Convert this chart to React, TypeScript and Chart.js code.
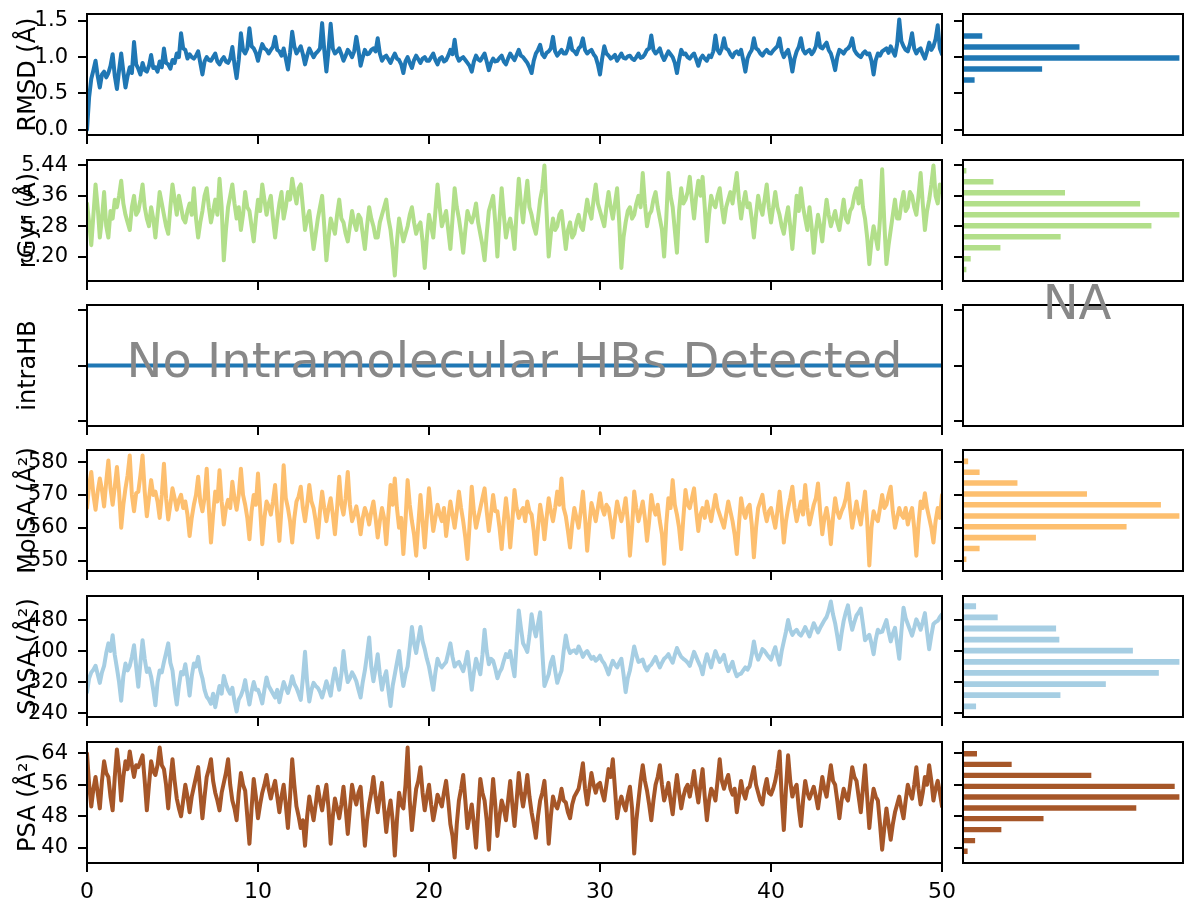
import React, { useEffect, useRef } from 'react';
import { Chart, registerables } from 'chart.js';

Chart.register(...registerables);

// ---------------------------------------------------------------------------
// Trajectory data: one frame every 0.125 ns over 50 ns (16 frames per row)
// ---------------------------------------------------------------------------
const TIME_STEP_NS = 0.125;
const timeTicksNs = [0, 10, 20, 30, 40, 50];

const rmsdAngstrom = [
  0.00, 0.45, 0.70, 0.82, 0.95, 0.74, 0.58, 0.76, 0.80, 0.72, 0.78, 0.88, 1.04, 0.74, 0.56, 0.82,
  1.05, 0.80, 0.58, 0.74, 0.86, 0.78, 1.21, 0.90, 0.84, 0.76, 0.92, 0.82, 0.80, 0.88, 1.03, 0.85,
  0.86, 0.80, 0.94, 0.86, 1.12, 0.92, 0.90, 0.84, 0.96, 0.92, 1.05, 1.00, 1.33, 1.12, 1.10, 0.98,
  1.04, 1.00, 0.98, 1.02, 1.08, 0.92, 0.76, 0.94, 1.00, 0.96, 0.95, 1.00, 1.05, 0.94, 0.90, 0.96,
  1.00, 0.94, 0.92, 0.98, 1.14, 0.90, 0.71, 0.96, 1.33, 1.10, 1.05, 1.12, 1.40, 1.15, 1.12, 1.06,
  0.95, 1.08, 1.18, 1.12, 1.10, 1.05, 1.10, 1.14, 1.28, 1.10, 1.08, 1.02, 1.12, 0.98, 0.83, 1.06,
  1.35, 1.15, 1.05, 1.10, 1.15, 1.04, 0.90, 1.02, 1.12, 1.06, 1.00, 1.05, 1.08, 1.12, 1.47, 1.10,
  0.80, 1.10, 1.46, 1.12, 1.05, 1.08, 1.12, 1.04, 0.95, 1.02, 1.10, 1.06, 1.00, 1.08, 1.28, 1.10,
  0.88, 1.00, 1.10, 1.04, 1.05, 1.10, 1.12, 1.08, 1.26, 1.05, 0.95, 1.00, 1.02, 0.97, 0.92, 0.99,
  1.05, 0.98, 0.96, 0.90, 0.78, 0.94, 1.00, 0.92, 0.85, 0.96, 1.02, 0.97, 0.92, 0.98, 1.00, 0.95,
  0.95, 1.00, 1.05, 0.96, 0.90, 0.98, 1.00, 0.94, 0.96, 1.02, 1.10, 1.04, 1.24, 1.02, 0.95, 0.98,
  1.00, 0.96, 0.92, 0.88, 0.80, 0.94, 1.02, 0.97, 0.95, 1.00, 1.05, 0.94, 0.82, 0.92, 0.98, 0.94,
  0.95, 0.99, 1.02, 0.94, 0.90, 0.98, 1.05, 1.00, 0.96, 1.03, 1.10, 1.02, 1.00, 0.96, 0.92, 0.86,
  0.78, 0.95, 1.05, 1.10, 1.17, 1.04, 1.00, 1.06, 1.08, 1.12, 1.28, 1.08, 1.02, 1.06, 1.10, 1.05,
  1.05, 1.12, 1.26, 1.10, 1.08, 1.04, 1.12, 1.15, 1.26, 1.10, 1.05, 1.08, 1.10, 1.04, 1.00, 0.90,
  0.76, 0.98, 1.15, 1.05, 1.02, 0.98, 1.00, 1.03, 0.95, 1.00, 1.05, 0.99, 0.98, 1.01, 1.02, 0.98,
  0.96, 1.00, 1.05, 0.99, 1.00, 1.04, 1.10, 1.12, 1.30, 1.10, 1.05, 1.08, 1.12, 1.02, 0.96, 1.02,
  1.08, 1.04, 1.00, 0.92, 0.78, 0.96, 1.10, 1.04, 1.05, 1.00, 0.98, 1.02, 1.05, 0.97, 0.88, 0.98,
  1.02, 0.98, 0.95, 1.02, 1.00, 1.08, 1.30, 1.10, 1.05, 1.12, 1.26, 1.12, 1.10, 1.04, 1.00, 1.06,
  1.08, 1.04, 1.10, 0.96, 0.80, 0.98, 1.05, 1.10, 1.26, 1.12, 1.10, 1.05, 1.02, 1.07, 1.10, 1.06,
  1.05, 1.09, 1.12, 1.15, 1.26, 1.08, 1.00, 1.06, 1.10, 0.98, 0.80, 0.98, 1.08, 1.14, 1.26, 1.10,
  1.05, 1.08, 1.10, 1.04, 1.08, 1.15, 1.33, 1.14, 1.12, 1.16, 1.20, 1.10, 1.05, 0.95, 0.82, 1.00,
  1.10, 1.08, 1.05, 1.10, 1.12, 1.16, 1.26, 1.10, 1.05, 1.02, 1.00, 1.05, 1.08, 1.04, 1.05, 0.95,
  0.76, 0.96, 1.05, 1.02, 1.08, 1.10, 1.12, 1.06, 1.15, 1.08, 1.02, 1.18, 1.52, 1.22, 1.15, 1.10,
  1.08, 1.18, 1.33, 1.12, 1.05, 1.10, 1.12, 1.04, 0.98, 1.08, 1.20, 1.10, 1.15, 1.25, 1.44, 1.12,
  1.04,
];

const rgyrAngstrom = [
  5.34, 5.29, 5.23, 5.31, 5.39, 5.33, 5.25, 5.30, 5.37, 5.28, 5.25, 5.32, 5.30, 5.35, 5.33, 5.36,
  5.40, 5.34, 5.31, 5.29, 5.27, 5.33, 5.36, 5.31, 5.32, 5.35, 5.39, 5.33, 5.30, 5.28, 5.33, 5.30,
  5.25, 5.31, 5.37, 5.34, 5.31, 5.28, 5.26, 5.33, 5.39, 5.35, 5.31, 5.36, 5.33, 5.30, 5.29, 5.32,
  5.34, 5.31, 5.38, 5.30, 5.25, 5.29, 5.32, 5.36, 5.38, 5.33, 5.29, 5.32, 5.35, 5.31, 5.405, 5.33,
  5.19, 5.27, 5.33, 5.36, 5.39, 5.34, 5.30, 5.33, 5.27, 5.31, 5.37, 5.33, 5.32, 5.28, 5.24, 5.30,
  5.35, 5.32, 5.39, 5.35, 5.31, 5.34, 5.36, 5.30, 5.25, 5.30, 5.34, 5.37, 5.30, 5.33, 5.37, 5.35,
  5.405, 5.37, 5.34, 5.38, 5.39, 5.33, 5.27, 5.30, 5.32, 5.27, 5.22, 5.26, 5.30, 5.33, 5.36, 5.28,
  5.19, 5.25, 5.30, 5.28, 5.26, 5.31, 5.35, 5.30, 5.29, 5.26, 5.24, 5.28, 5.32, 5.29, 5.27, 5.31,
  5.30, 5.26, 5.22, 5.28, 5.33, 5.30, 5.28, 5.25, 5.25, 5.29, 5.31, 5.33, 5.35, 5.30, 5.27, 5.22,
  5.15, 5.24, 5.30, 5.27, 5.24, 5.26, 5.28, 5.31, 5.33, 5.29, 5.26, 5.28, 5.29, 5.24, 5.17, 5.25,
  5.31, 5.28, 5.25, 5.32, 5.39, 5.33, 5.28, 5.30, 5.32, 5.27, 5.22, 5.30, 5.38, 5.33, 5.30, 5.26,
  5.21, 5.27, 5.32, 5.30, 5.29, 5.31, 5.34, 5.29, 5.26, 5.23, 5.19, 5.26, 5.32, 5.34, 5.36, 5.29,
  5.20, 5.30, 5.38, 5.31, 5.25, 5.28, 5.30, 5.27, 5.22, 5.32, 5.405, 5.34, 5.29, 5.35, 5.40, 5.33,
  5.31, 5.28, 5.26, 5.30, 5.35, 5.38, 5.44, 5.32, 5.20, 5.26, 5.30, 5.27, 5.28, 5.31, 5.32, 5.27,
  5.22, 5.27, 5.29, 5.25, 5.26, 5.29, 5.31, 5.28, 5.27, 5.31, 5.35, 5.32, 5.30, 5.35, 5.39, 5.34,
  5.32, 5.30, 5.28, 5.33, 5.37, 5.33, 5.30, 5.34, 5.38, 5.29, 5.17, 5.25, 5.29, 5.32, 5.33, 5.30,
  5.31, 5.34, 5.36, 5.33, 5.42, 5.34, 5.28, 5.31, 5.32, 5.35, 5.37, 5.33, 5.30, 5.27, 5.20, 5.30,
  5.42, 5.36, 5.33, 5.27, 5.21, 5.32, 5.38, 5.34, 5.35, 5.37, 5.41, 5.35, 5.30, 5.36, 5.40, 5.36,
  5.41, 5.33, 5.24, 5.31, 5.36, 5.34, 5.33, 5.36, 5.38, 5.33, 5.29, 5.33, 5.35, 5.37, 5.34, 5.38,
  5.42, 5.35, 5.30, 5.34, 5.37, 5.33, 5.34, 5.30, 5.25, 5.31, 5.36, 5.33, 5.31, 5.35, 5.39, 5.33,
  5.29, 5.33, 5.37, 5.33, 5.31, 5.28, 5.26, 5.30, 5.33, 5.28, 5.22, 5.29, 5.36, 5.32, 5.38, 5.33,
  5.30, 5.27, 5.33, 5.28, 5.21, 5.27, 5.31, 5.28, 5.24, 5.30, 5.35, 5.31, 5.28, 5.30, 5.32, 5.29,
  5.27, 5.31, 5.35, 5.30, 5.29, 5.32, 5.33, 5.36, 5.38, 5.34, 5.40, 5.33, 5.30, 5.25, 5.18, 5.24,
  5.28, 5.25, 5.22, 5.30, 5.43, 5.29, 5.18, 5.23, 5.27, 5.31, 5.35, 5.30, 5.30, 5.34, 5.37, 5.32,
  5.33, 5.37, 5.36, 5.33, 5.31, 5.36, 5.42, 5.34, 5.27, 5.32, 5.35, 5.39, 5.44, 5.36, 5.34, 5.39,
  5.37,
];

// No intramolecular hydrogen bonds are found in any frame
const intraHBTimesNs = [0, 50];
const intraHBCounts = [0, 0];

const molsaAngstrom2 = [
  566.0, 573.0, 577.0, 570.0, 565.5, 571.0, 575.0, 571.5, 566.5, 574.0, 580.5, 572.0, 567.0, 572.5, 578.5, 571.0,
  560.0, 567.0, 572.0, 576.0, 582.0, 570.0, 565.0, 570.5, 571.0, 576.0, 582.0, 571.0, 563.5, 569.0, 574.5, 570.0,
  571.0, 568.0, 563.0, 570.0, 579.5, 569.0, 562.5, 567.0, 572.0, 569.0, 565.5, 568.5, 570.0, 566.0, 568.0, 564.0,
  557.5, 563.0, 567.0, 570.0, 575.5, 568.0, 565.0, 569.0, 578.0, 566.0, 555.5, 564.0, 571.0, 568.0, 577.5, 568.0,
  561.0, 566.0, 568.5, 566.0, 574.0, 569.0, 565.5, 570.0, 578.0, 570.0, 567.0, 563.0, 556.5, 565.0, 570.0, 567.0,
  576.5, 566.0, 555.0, 563.0, 568.0, 566.5, 564.0, 568.0, 573.0, 564.0, 556.0, 566.0, 579.0, 569.0, 566.0, 562.0,
  555.5, 563.0, 568.0, 569.5, 572.5, 566.0, 562.0, 567.0, 573.0, 568.0, 566.0, 562.0, 557.0, 565.0, 571.0, 566.0,
  562.0, 566.0, 569.0, 564.0, 558.0, 566.0, 575.5, 567.0, 564.0, 569.0, 577.0, 567.0, 562.0, 564.0, 566.5, 563.0,
  558.0, 563.0, 566.0, 564.0, 561.0, 565.0, 568.0, 563.0, 557.0, 562.0, 566.0, 563.0, 555.0, 564.0, 573.0, 567.0,
  575.0, 566.0, 560.0, 563.0, 552.0, 562.0, 574.5, 567.0, 562.0, 558.0, 551.5, 561.0, 570.0, 562.0, 554.0, 563.0,
  572.0, 565.0, 559.0, 563.0, 567.0, 564.0, 562.0, 566.0, 557.5, 563.0, 568.0, 564.0, 560.0, 565.0, 571.0, 566.0,
  562.0, 557.0, 550.5, 561.0, 572.5, 565.0, 560.0, 563.0, 566.0, 569.0, 572.0, 565.0, 559.0, 564.0, 570.0, 565.0,
  565.0, 560.0, 553.5, 562.0, 569.0, 563.0, 554.0, 562.0, 571.5, 566.0, 563.0, 565.0, 566.0, 562.0, 568.0, 565.0,
  564.0, 559.0, 552.0, 560.0, 567.0, 563.0, 556.5, 563.0, 569.0, 565.0, 562.0, 566.0, 571.0, 567.0, 575.0, 566.0,
  563.5, 559.0, 554.0, 561.0, 566.0, 563.0, 560.0, 565.0, 571.0, 563.0, 553.0, 561.0, 567.5, 565.0, 562.0, 566.0,
  570.5, 566.0, 564.0, 567.0, 566.0, 562.0, 557.0, 563.0, 568.0, 565.0, 562.0, 565.0, 569.0, 562.0, 551.5, 560.0,
  571.0, 566.0, 562.0, 565.0, 568.0, 563.0, 556.0, 562.0, 570.0, 566.0, 564.0, 567.0, 562.0, 558.0, 549.0, 561.0,
  569.0, 566.0, 574.5, 567.0, 564.0, 560.0, 553.5, 563.0, 571.5, 567.0, 566.0, 569.0, 572.0, 565.0, 559.0, 564.0,
  566.0, 563.0, 568.0, 565.0, 562.0, 566.0, 570.0, 566.0, 564.0, 562.0, 560.0, 564.0, 568.0, 565.0, 562.0, 558.0,
  552.0, 561.0, 569.0, 565.0, 563.0, 566.0, 567.0, 561.0, 551.0, 560.0, 566.0, 568.0, 570.0, 565.0, 562.0, 565.0,
  566.0, 563.0, 560.0, 565.0, 571.0, 564.0, 555.5, 562.0, 566.0, 569.0, 572.5, 566.0, 562.0, 565.0, 568.0, 564.0,
  573.0, 566.0, 561.0, 564.0, 567.0, 569.0, 573.5, 565.0, 558.0, 563.0, 566.0, 562.0, 555.0, 563.0, 569.0, 565.0,
  563.0, 565.0, 566.5, 569.0, 573.5, 566.0, 560.0, 564.0, 568.0, 564.0, 561.0, 566.0, 571.0, 562.0, 548.5, 560.0,
  565.0, 563.0, 562.0, 566.0, 570.0, 566.0, 567.0, 570.0, 572.5, 565.0, 560.0, 563.0, 566.0, 564.0, 563.0, 566.0,
  561.0, 564.0, 566.0, 560.0, 551.5, 561.0, 568.0, 566.0, 570.5, 566.0, 563.0, 560.0, 555.5, 562.0, 566.0, 563.0,
  570.0,
];

const sasaAngstrom2 = [
  294, 330, 345, 352, 362, 340, 318, 345, 362, 395, 420, 400, 441, 390, 356, 320,
  272, 335, 368, 350, 362, 385, 415, 360, 308, 370, 428, 380, 346, 355, 334, 300,
  260, 320, 350, 345, 372, 395, 420, 370, 350, 300, 262, 310, 346, 340, 366, 330,
  285, 335, 368, 360, 385, 350, 330, 300, 282, 275, 264, 290, 255, 285, 310, 290,
  336, 315, 300, 290, 305, 270, 244, 275, 285, 300, 325, 290, 262, 295, 320, 300,
  300, 285, 265, 300, 332, 310, 300, 290, 280, 300, 268, 295, 320, 305, 292, 310,
  335, 315, 305, 290, 274, 330, 398, 320, 270, 300, 318, 310, 305, 295, 280, 300,
  322, 305, 285, 325, 355, 325, 300, 340, 400, 350, 320, 330, 345, 335, 322, 300,
  280, 320, 350, 390, 435, 360, 322, 355, 392, 340, 300, 330, 348, 300, 258, 310,
  340, 370, 400, 350, 310, 340, 360, 410, 462, 420, 395, 430, 462, 425, 405, 380,
  360, 330, 300, 345, 380, 365, 358, 365, 372, 395, 420, 385, 360, 368, 372, 360,
  348, 370, 398, 350, 300, 345, 380, 360, 340, 390, 455, 400, 366, 380, 375, 355,
  330, 345, 355, 375, 392, 385, 400, 365, 335, 420, 505, 460, 420, 410, 398, 440,
  495, 460, 438, 470, 500, 400, 310, 325, 340, 370, 385, 350, 318, 335, 350, 400,
  440, 410, 395, 400, 402, 395, 412, 400, 385, 395, 400, 390, 380, 385, 375, 380,
  388, 375, 368, 355, 340, 360, 375, 365, 358, 370, 380, 340, 294, 330, 350, 380,
  412, 390, 372, 375, 378, 360, 350, 360, 365, 375, 385, 370, 358, 370, 380, 385,
  392, 380, 370, 390, 408, 395, 385, 380, 376, 370, 362, 380, 398, 385, 372, 360,
  340, 370, 392, 375, 358, 380, 400, 385, 372, 380, 390, 365, 348, 360, 372, 350,
  335, 340, 342, 350, 358, 352, 362, 390, 425, 395, 378, 390, 405, 400, 392, 385,
  378, 395, 410, 385, 365, 400, 425, 450, 480, 455, 442, 450, 455, 445, 440, 450,
  462, 450, 438, 455, 472, 460, 448, 460, 470, 480, 488, 505, 528, 495, 472, 440,
  405, 445, 478, 500, 518, 480, 455, 475, 492, 500, 510, 470, 428, 435, 442, 420,
  392, 430, 455, 448, 450, 465, 480, 450, 425, 445, 460, 420, 380, 450, 512, 485,
  470, 455, 440, 460, 482, 470, 455, 475, 498, 450, 405, 440, 470, 475, 478, 488,
  495,
];

const psaAngstrom2 = [
  64.0, 56.0, 50.5, 55.0, 58.0, 54.0, 50.0, 57.0, 62.0, 59.0, 58.0, 53.0, 49.5, 58.0, 65.0, 60.0,
  52.0, 58.0, 62.0, 60.0, 64.5, 61.0, 58.0, 61.0, 60.5, 62.0, 63.5, 57.0, 49.5, 56.0, 62.0, 59.5,
  58.5, 61.0, 65.5, 61.0, 60.0, 56.0, 50.0, 57.0, 62.5, 57.0, 52.5, 50.0, 48.0, 52.0, 56.0, 53.0,
  49.0, 53.0, 55.5, 58.0, 60.5, 54.0, 47.5, 53.0, 58.0, 60.0, 62.5, 57.0, 54.0, 52.0, 49.5, 54.0,
  56.5, 59.0, 62.5, 56.0, 52.0, 50.0, 47.0, 54.0, 59.0, 56.0, 54.5, 48.0, 41.0, 50.0, 57.5, 53.0,
  47.5, 51.0, 54.0, 56.0, 58.5, 55.0, 52.5, 55.0, 57.0, 53.0, 49.0, 53.0, 56.0, 51.0, 45.0, 53.0,
  62.5, 56.0, 50.5, 48.0, 45.0, 47.0, 40.5, 48.0, 53.0, 50.0, 47.0, 51.0, 55.5, 52.0, 49.5, 53.0,
  56.0, 50.0, 41.0, 48.0, 52.5, 50.0, 47.5, 51.0, 55.5, 50.0, 43.5, 50.0, 56.0, 53.0, 51.0, 54.0,
  55.5, 48.0, 40.5, 47.0, 51.0, 54.0, 58.0, 53.0, 49.0, 53.0, 56.5, 50.0, 44.0, 49.0, 52.0, 47.0,
  38.0, 47.0, 54.0, 51.0, 50.0, 56.0, 65.5, 52.0, 44.5, 50.0, 55.0, 57.0, 60.5, 54.0, 49.5, 53.0,
  56.0, 51.0, 47.0, 50.0, 53.5, 52.0, 50.5, 54.0, 57.0, 52.0, 46.0, 43.0, 37.5, 46.0, 52.0, 55.0,
  58.5, 52.0, 45.0, 48.0, 51.0, 46.0, 40.0, 49.0, 57.5, 54.0, 52.0, 47.0, 39.5, 50.0, 57.5, 51.0,
  43.0, 48.0, 52.0, 50.0, 47.0, 52.0, 57.0, 51.0, 45.5, 52.0, 59.0, 54.0, 50.5, 54.0, 58.5, 53.0,
  49.0, 46.0, 42.5, 48.0, 52.0, 54.0, 57.0, 50.0, 41.0, 48.0, 53.0, 51.0, 50.0, 52.0, 55.0, 52.0,
  51.5, 49.0, 47.5, 51.0, 53.0, 54.0, 55.0, 58.0, 61.5, 55.0, 51.0, 55.0, 59.0, 56.0, 54.0, 56.0,
  56.5, 54.0, 52.0, 56.0, 60.0, 58.0, 62.5, 55.0, 47.5, 51.0, 53.0, 51.0, 49.5, 53.0, 55.5, 50.0,
  38.5, 47.0, 52.0, 57.0, 61.0, 57.0, 54.5, 51.0, 47.0, 52.0, 56.0, 58.0, 61.0, 56.0, 52.0, 54.0,
  56.5, 52.0, 48.5, 54.0, 58.5, 54.0, 50.0, 53.0, 55.0, 56.0, 53.0, 56.0, 59.5, 55.0, 51.5, 56.0,
  60.0, 53.0, 47.0, 52.0, 55.0, 54.0, 52.0, 57.0, 62.5, 57.0, 55.0, 57.0, 58.5, 55.0, 53.5, 55.0,
  49.0, 53.0, 57.0, 54.0, 52.5, 55.0, 55.5, 58.0, 60.5, 56.0, 54.0, 52.0, 51.0, 55.0, 57.5, 54.0,
  53.5, 55.0, 57.0, 60.0, 64.5, 53.0, 44.5, 55.0, 63.5, 57.0, 53.0, 55.0, 56.0, 50.0, 45.5, 52.0,
  57.0, 54.0, 52.5, 54.0, 55.5, 53.0, 50.0, 54.0, 58.0, 55.0, 53.0, 57.0, 61.0, 57.0, 56.0, 52.0,
  47.5, 52.0, 55.0, 53.0, 52.0, 56.0, 60.5, 58.0, 57.0, 53.0, 49.0, 55.0, 61.0, 53.0, 45.0, 51.0,
  55.0, 53.0, 52.0, 46.0, 39.5, 45.0, 50.0, 46.0, 42.0, 46.0, 49.0, 51.0, 53.0, 50.0, 47.5, 52.0,
  56.0, 54.0, 52.5, 56.0, 60.5, 55.0, 51.0, 54.0, 58.0, 56.0, 61.0, 57.0, 52.0, 55.0, 57.0, 54.0,
  50.5,
];

// Y tick values per property
const rmsdTicks = [0, 0.5, 1.0, 1.5];
const rgyrTicks = [5.2, 5.28, 5.36, 5.44];
const intraHBTicks = [-0.05, 0, 0.05];
const molsaTicks = [550, 560, 570, 580];
const sasaTicks = [240, 320, 400, 480];
const psaTicks = [40, 48, 56, 64];

// Distributions (10 bins each): bin centres and frame counts
const rmsdBinCenters = [0.076, 0.228, 0.38, 0.532, 0.684, 0.836, 0.988, 1.14, 1.292, 1.444];
const rmsdBinCounts = [1, 0, 0, 4, 28, 178, 483, 261, 45, 1];

const rgyrBinCenters = [5.166, 5.194, 5.223, 5.252, 5.281, 5.31, 5.339, 5.368, 5.397, 5.426];
const rgyrBinCounts = [5, 10, 44, 113, 217, 249, 204, 118, 36, 5];

const molsaBinCenters = [550.4, 553.7, 557.0, 560.3, 563.6, 567.0, 570.3, 573.6, 576.9, 580.2];
const molsaBinCounts = [5, 20, 84, 187, 247, 226, 142, 63, 20, 7];

const sasaBinCenters = [257.4, 286.1, 314.8, 343.5, 372.2, 400.9, 429.6, 458.3, 487.0, 515.7];
const sasaBinCounts = [13, 91, 133, 182, 201, 158, 90, 87, 33, 13];

const psaBinCenters = [39.1, 41.8, 44.6, 47.4, 50.1, 52.9, 55.6, 58.4, 61.2, 63.9];
const psaBinCounts = [6, 14, 42, 87, 186, 232, 227, 138, 53, 16];

const intraHBRange: [number, number] = [-0.055, 0.055];

// ---------------------------------------------------------------------------
// Layout and styling
// ---------------------------------------------------------------------------
const FONT_FAMILY = '"DejaVu Sans", "Liberation Sans", sans-serif';
const AXIS_COLOR = '#000000';
const NOTE_COLOR = '#888888';

const ROW_TOPS = [14, 160, 305, 450, 596, 742];
const ROW_HEIGHT = 121;

const PLOT_LEFT = 87;
const PLOT_RIGHT = 942;
const LINE_CANVAS_WIDTH = 962;
const LINE_PAD_TOP = 14;

const HIST_CANVAS_LEFT = 940;
const HIST_CANVAS_WIDTH = 248;
const HIST_LEFT = 963;
const HIST_RIGHT = 1183;
const HIST_PAD_TOP = 26;
const HIST_PAD_BOTTOM = 12;

function paddedRange(values: number[]): [number, number] {
  const lo = Math.min(...values);
  const hi = Math.max(...values);
  const m = (hi - lo) * 0.05;
  return [lo - m, hi + m];
}

function toPoints(values: number[]) {
  return values.map((v, i) => ({ x: i * TIME_STEP_NS, y: v }));
}

// Full box around every plot area
const framePlugin = {
  id: 'frame',
  afterDatasetsDraw(chart: any) {
    const { ctx, chartArea: a } = chart;
    ctx.save();
    ctx.strokeStyle = AXIS_COLOR;
    ctx.lineWidth = 2;
    ctx.strokeRect(a.left, a.top, a.right - a.left, a.bottom - a.top);
    ctx.restore();
  },
};

// Large grey annotation text
const notePlugin = {
  id: 'note',
  afterDraw(chart: any, _args: any, opts: any) {
    if (!opts || !opts.text) return;
    const { ctx, chartArea: a } = chart;
    const x = (a.left + a.right) / 2 + (opts.dx || 0);
    const y = opts.atTop ? a.top : chart.scales.y.getPixelForValue(opts.value);
    ctx.save();
    ctx.font = `${opts.size}px ${FONT_FAMILY}`;
    ctx.fillStyle = NOTE_COLOR;
    ctx.textAlign = 'center';
    ctx.textBaseline = 'middle';
    ctx.fillText(opts.text, x, y + (opts.dy || 0));
    ctx.restore();
  },
};

function tickMarks() {
  return {
    display: true,
    offset: false,
    drawOnChartArea: false,
    drawTicks: true,
    tickLength: 9,
    tickWidth: 2,
    tickColor: AXIS_COLOR,
    color: AXIS_COLOR,
    lineWidth: 2,
  };
}

interface LineOpts {
  title: string;
  color: string;
  points: { x: number; y: number }[];
  range: [number, number];
  ticks: number[];
  decimals: number;
  showValueLabels: boolean;
  showTimeLabels: boolean;
  note?: any;
}

function lineConfig(o: LineOpts): any {
  return {
    type: 'line',
    data: {
      datasets: [
        {
          data: o.points,
          borderColor: o.color,
          borderWidth: 4,
          pointRadius: 0,
          pointHoverRadius: 0,
          tension: 0,
          fill: false,
          borderJoinStyle: 'round',
          borderCapStyle: 'round',
        },
      ],
    },
    options: {
      animation: false,
      responsive: false,
      devicePixelRatio: 1,
      events: [],
      layout: { padding: { top: LINE_PAD_TOP, right: LINE_CANVAS_WIDTH - PLOT_RIGHT, left: 0, bottom: 0 } },
      scales: {
        x: {
          type: 'linear',
          min: timeTicksNs[0],
          max: timeTicksNs[timeTicksNs.length - 1],
          afterBuildTicks: (s: any) => {
            s.ticks = timeTicksNs.map((v) => ({ value: v }));
          },
          afterFit: (s: any) => {
            s.height = o.showTimeLabels ? 44 : 12;
            s.paddingLeft = 0;
            s.paddingRight = 0;
          },
          grid: tickMarks(),
          border: { display: false },
          ticks: {
            color: AXIS_COLOR,
            font: { family: FONT_FAMILY, size: 22 },
            padding: 7,
            maxRotation: 0,
            autoSkip: false,
            callback: (v: any) => (o.showTimeLabels ? String(v) : ''),
          },
        },
        y: {
          type: 'linear',
          min: o.range[0],
          max: o.range[1],
          afterBuildTicks: (s: any) => {
            s.ticks = o.ticks.map((v) => ({ value: v }));
          },
          afterFit: (s: any) => {
            s.width = PLOT_LEFT;
            s.paddingTop = 0;
            s.paddingBottom = 0;
          },
          grid: tickMarks(),
          border: { display: false },
          ticks: {
            color: AXIS_COLOR,
            font: { family: FONT_FAMILY, size: 21 },
            padding: 10,
            autoSkip: false,
            callback: (v: any) => (o.showValueLabels ? Number(v).toFixed(o.decimals) : ''),
          },
          title: {
            display: true,
            text: o.title,
            color: AXIS_COLOR,
            font: { family: FONT_FAMILY, size: 24 },
            padding: { top: 14.5, bottom: 0 },
          },
        },
      },
      plugins: {
        legend: { display: false },
        tooltip: { enabled: false },
        note: o.note || {},
      },
    },
    plugins: [framePlugin, notePlugin],
  };
}

interface HistOpts {
  color: string;
  centers: number[];
  counts: number[];
  range: [number, number];
  ticks: number[];
  note?: any;
}

function histConfig(o: HistOpts): any {
  const maxCount = o.counts.length ? Math.max(...o.counts) : 1;
  return {
    type: 'bar',
    data: {
      datasets: o.centers.length
        ? [
            {
              data: o.centers.map((c, i) => ({ x: o.counts[i], y: c })),
              backgroundColor: o.color,
              borderColor: 'rgba(255,255,255,0.55)',
              borderWidth: 1,
              barPercentage: 0.7,
              categoryPercentage: 1,
            },
          ]
        : [],
    },
    options: {
      indexAxis: 'y',
      animation: false,
      responsive: false,
      devicePixelRatio: 1,
      events: [],
      layout: {
        padding: {
          top: HIST_PAD_TOP,
          right: HIST_CANVAS_LEFT + HIST_CANVAS_WIDTH - HIST_RIGHT,
          left: 0,
          bottom: HIST_PAD_BOTTOM,
        },
      },
      scales: {
        x: { type: 'linear', min: 0, max: maxCount * 1.012, display: false },
        y: {
          type: 'linear',
          offset: false,
          min: o.range[0],
          max: o.range[1],
          afterBuildTicks: (s: any) => {
            s.ticks = o.ticks.map((v) => ({ value: v }));
          },
          afterFit: (s: any) => {
            s.width = HIST_LEFT - HIST_CANVAS_LEFT;
            s.paddingTop = 0;
            s.paddingBottom = 0;
          },
          grid: tickMarks(),
          border: { display: false },
          ticks: { padding: 0, autoSkip: false, callback: () => '' },
        },
      },
      plugins: {
        legend: { display: false },
        tooltip: { enabled: false },
        note: o.note || {},
      },
    },
    plugins: [framePlugin, notePlugin],
  };
}

// ---------------------------------------------------------------------------
// Rows
// ---------------------------------------------------------------------------
interface Row {
  line: () => any;
  hist: () => any;
  last: boolean;
}

function buildRows(): Row[] {
  const series = [
    { title: 'RMSD (Å)', color: '#1f77b4', values: rmsdAngstrom, ticks: rmsdTicks, decimals: 1, centers: rmsdBinCenters, counts: rmsdBinCounts },
    { title: 'rGyr (Å)', color: '#b2df8a', values: rgyrAngstrom, ticks: rgyrTicks, decimals: 2, centers: rgyrBinCenters, counts: rgyrBinCounts },
    null,
    { title: 'MolSA (Å²)', color: '#fdbf6f', values: molsaAngstrom2, ticks: molsaTicks, decimals: 0, centers: molsaBinCenters, counts: molsaBinCounts },
    { title: 'SASA (Å²)', color: '#a6cee3', values: sasaAngstrom2, ticks: sasaTicks, decimals: 0, centers: sasaBinCenters, counts: sasaBinCounts },
    { title: 'PSA (Å²)', color: '#a65628', values: psaAngstrom2, ticks: psaTicks, decimals: 0, centers: psaBinCenters, counts: psaBinCounts },
  ];

  return series.map((s, idx) => {
    const last = idx === series.length - 1;
    if (s === null) {
      return {
        last,
        line: () =>
          lineConfig({
            title: 'intraHB',
            color: '#1f77b4',
            points: intraHBTimesNs.map((t, i) => ({ x: t, y: intraHBCounts[i] })),
            range: intraHBRange,
            ticks: intraHBTicks,
            decimals: 2,
            showValueLabels: false,
            showTimeLabels: false,
            note: { text: 'No Intramolecular HBs Detected', size: 48, value: 0, dy: -1 },
          }),
        hist: () =>
          histConfig({
            color: '#1f77b4',
            centers: [],
            counts: [],
            range: intraHBRange,
            ticks: intraHBTicks,
            note: { text: 'NA', size: 48, atTop: true, dy: 2, dx: 4 },
          }),
      };
    }
    const range = paddedRange(s.values);
    return {
      last,
      line: () =>
        lineConfig({
          title: s.title,
          color: s.color,
          points: toPoints(s.values),
          range,
          ticks: s.ticks,
          decimals: s.decimals,
          showValueLabels: true,
          showTimeLabels: last,
        }),
      hist: () =>
        histConfig({
          color: s.color,
          centers: s.centers,
          counts: s.counts,
          range,
          ticks: s.ticks,
        }),
    };
  });
}

// ---------------------------------------------------------------------------
// Components
// ---------------------------------------------------------------------------
interface Box {
  left: number;
  top: number;
  width: number;
  height: number;
}

function ChartCanvas({ box, makeConfig }: { box: Box; makeConfig: () => any }) {
  const ref = useRef<HTMLCanvasElement | null>(null);
  useEffect(() => {
    if (!ref.current) return;
    const chart = new Chart(ref.current, makeConfig());
    return () => chart.destroy();
  }, []);
  return (
    <canvas
      ref={ref}
      width={box.width}
      height={box.height}
      style={{ position: 'absolute', left: box.left, top: box.top, width: box.width, height: box.height }}
    />
  );
}

export default function App() {
  const rows = buildRows();
  return (
    <div
      style={{
        position: 'absolute',
        left: 0,
        top: 0,
        width: 1188,
        height: 905,
        background: '#ffffff',
        overflow: 'hidden',
      }}
    >
      {rows.map((r, i) => {
        const top = ROW_TOPS[i];
        const lineBox: Box = {
          left: 0,
          top: top - LINE_PAD_TOP,
          width: LINE_CANVAS_WIDTH,
          height: LINE_PAD_TOP + ROW_HEIGHT + (r.last ? 44 : 12),
        };
        return <ChartCanvas key={`line-${i}`} box={lineBox} makeConfig={r.line} />;
      })}
      {rows.map((r, i) => {
        const top = ROW_TOPS[i];
        const histBox: Box = {
          left: HIST_CANVAS_LEFT,
          top: top - HIST_PAD_TOP,
          width: HIST_CANVAS_WIDTH,
          height: HIST_PAD_TOP + ROW_HEIGHT + HIST_PAD_BOTTOM,
        };
        return <ChartCanvas key={`hist-${i}`} box={histBox} makeConfig={r.hist} />;
      })}
    </div>
  );
}
